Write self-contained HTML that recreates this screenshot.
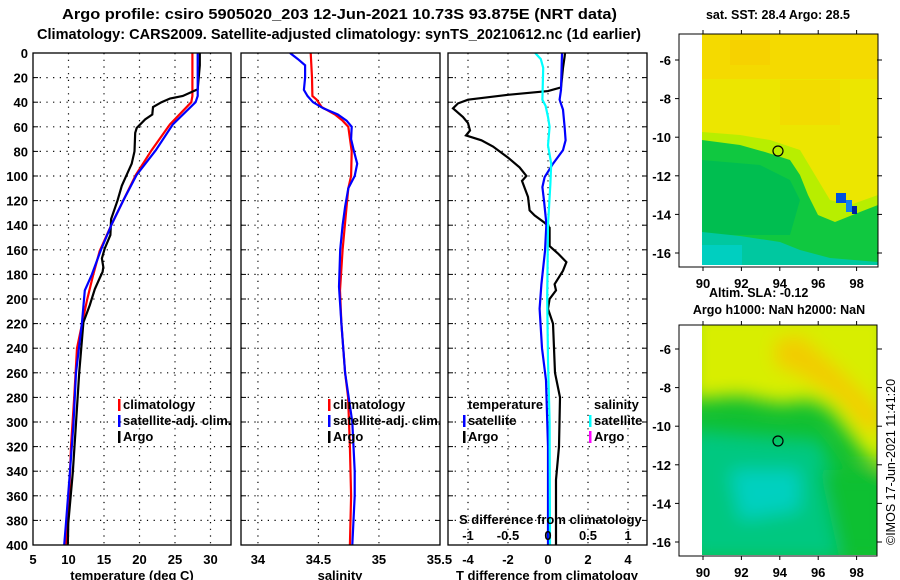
<!DOCTYPE html>
<html><head><meta charset="utf-8"><style>
html,body{margin:0;padding:0;background:#fff;}
svg{display:block;font-family:"Liberation Sans",Arial,sans-serif;font-weight:bold;}
</style></head><body>
<svg id="chart" width="900" height="580" viewBox="0 0 900 580" xmlns="http://www.w3.org/2000/svg">
<defs>
<filter id="blur" x="-20%" y="-20%" width="140%" height="140%"><feGaussianBlur stdDeviation="9"/></filter>
<clipPath id="clipTop"><rect x="702" y="34" width="176" height="231"/></clipPath>
<clipPath id="clipBot"><rect x="702" y="325" width="175" height="230"/></clipPath>
<clipPath id="c1"><rect x="33" y="53" width="198" height="492"/></clipPath>
<clipPath id="c2"><rect x="241" y="53" width="199" height="492"/></clipPath>
<clipPath id="c3"><rect x="448" y="53" width="199" height="492"/></clipPath>
</defs>
<text x="62" y="19" font-size="15" textLength="555" lengthAdjust="spacingAndGlyphs">Argo profile: csiro 5905020_203 12-Jun-2021 10.73S 93.875E (NRT data)</text>
<text x="37" y="39" font-size="15" textLength="604" lengthAdjust="spacingAndGlyphs">Climatology: CARS2009. Satellite-adjusted climatology: synTS_20210612.nc (1d earlier)</text>

<!-- top map -->
<g>
<text x="778" y="19" font-size="12.5" text-anchor="middle">sat. SST: 28.4 Argo: 28.5</text>
<g clip-path="url(#clipTop)">
<rect x="702" y="34" width="176" height="231" fill="#ece600"/>
<rect x="702" y="34" width="176" height="45" fill="#f4da00"/>
<rect x="730" y="40" width="40" height="25" fill="#f6d200"/>
<rect x="780" y="80" width="60" height="45" fill="#f2dc00"/>
<polygon fill="#b8ee00" points="702,132 740,135 770,140 800,150 815,175 830,200 850,205 878,195 878,265 702,265"/>
<polygon fill="#10c840" points="702,140 740,145 765,152 790,160 800,175 808,195 818,215 835,222 860,212 878,205 878,265 702,265"/>
<polygon fill="#00be50" points="702,160 760,165 790,180 800,200 790,235 702,235"/>
<polygon fill="#00c8a0" points="702,232 740,236 780,242 800,250 830,258 878,262 878,265 702,265"/>
<rect x="702" y="245" width="40" height="20" fill="#00cfc0"/>
<rect x="836" y="193" width="10" height="10" fill="#0050e0"/>
<rect x="846" y="200" width="6" height="12" fill="#1080f0"/>
<rect x="852" y="206" width="5" height="8" fill="#0020a0"/>
</g>
<rect x="679" y="34" width="199" height="233" fill="none" stroke="#000" stroke-width="1"/>
<circle cx="778" cy="151" r="5" fill="none" stroke="#000" stroke-width="1.2"/>
</g>
<text x="709" y="297" font-size="12.5">Altim. SLA: -0.12</text>
<text x="779" y="314" font-size="12.5" text-anchor="middle">Argo h1000: NaN h2000: NaN</text>

<!-- bottom map -->
<g>
<g clip-path="url(#clipBot)">
<rect x="702" y="325" width="176" height="231" fill="#10c030"/>
<g filter="url(#blur)">
<polygon fill="#d8ee00" points="690,310 890,310 890,470 865,455 850,435 830,410 810,400 780,404 740,396 690,400"/>
<polygon fill="#f2cc00" points="775,340 800,335 840,370 870,400 885,420 870,435 840,400 800,375 775,365"/>
<polygon fill="#00d8d0" points="705,440 760,445 800,460 810,500 780,520 750,510 720,490 705,470"/>
<polygon fill="#00c880" points="690,430 820,440 840,490 890,500 890,560 690,560"/>
<polygon fill="#10c030" points="820,470 890,470 890,560 840,560"/>
<polygon fill="#00d0c0" points="730,470 800,470 800,510 740,520"/>
</g>
</g>
<rect x="679" y="325" width="198" height="231" fill="none" stroke="#000" stroke-width="1"/>
<circle cx="778" cy="441" r="5" fill="none" stroke="#000" stroke-width="1.2"/>
</g>
<text transform="translate(895,545) rotate(-90)" font-size="12.5" font-weight="normal">©IMOS 17-Jun-2021 11:41:20</text>
</svg>
<script>
// ---- data ----
const depthTicks=[0,20,40,60,80,100,120,140,160,180,200,220,240,260,280,300,320,340,360,380,400];
const tempTicks=[5,10,15,20,25,30];
const salTicks=[34,34.5,35,35.5];
const tdiffTicks=[-4,-2,0,2,4];
const sdiffTicks=[-1,-0.5,0,0.5,1];
const sdiffLabels=["-1","-0.5","0","0.5","1"];

const climTDepth=[0,35,40,58,79,99,120,139,161,180,201,240,280,320,360,400];
const climT=[27.45,27.45,27.3,24.3,21.7,19.5,17.7,16.1,14.4,13.5,12.6,11.2,10.8,10.35,10.1,9.6];
const satTDepth=[0,35,40,58,79,99,120,139,161,180,193,219,260,301,341,382,400];
const satT=[28.2,28.2,27.9,24.7,22.3,19.6,17.7,16.1,14.5,13.3,12.3,11.9,11.05,10.7,10.2,9.65,9.4];
const argoTDepth=[0,10,29.5,35,37,40,44,50,54,61,65,80,90,99,108,120,135,148,159,167,174,178,183,192,205,219,260,301,341,382,400];
const argoT=[28.5,28.5,28.2,26.1,24.3,23.1,21.9,21.8,20.8,19.6,19.4,19.3,18.9,18.2,17.5,16.9,16.0,15.9,15.1,14.7,14.9,14.8,14.4,13.7,13.0,12.1,11.5,11.05,10.6,9.97,9.9];

const climSDepth=[0,20,35,38,44,50,55,60,80,100,110,130,160,193,220,260,280,320,360,380,400];
const climS=[34.436,34.447,34.45,34.486,34.527,34.637,34.70,34.747,34.775,34.77,34.747,34.728,34.70,34.678,34.69,34.72,34.745,34.76,34.77,34.765,34.76];
const satSDepth=[0,5,10,20,30,35,40,45,50,55,60,70,80,90,100,110,125,140,160,190,220,260,300,340,360,400];
const satS=[34.265,34.33,34.39,34.39,34.38,34.41,34.455,34.54,34.66,34.733,34.775,34.77,34.794,34.82,34.80,34.747,34.72,34.70,34.68,34.67,34.69,34.72,34.78,34.80,34.80,34.78];

const satDTDepth=[0,30,38,46,60,71,79,90,101,109,120,139,161,188,208,240,266,320,400];
const satDT=[0.7,0.65,0.58,0.75,0.83,0.88,0.75,0.25,-0.17,-0.28,-0.2,-0.08,-0.15,-0.33,-0.42,-0.3,-0.1,0,0];
const argoDTDepth=[0,3,12,28,31,34,38,41,45,52,57,63,67,71,76,85,93,100,104,117,128,132,138,142,157,163,170,177,188,193,200,208,220,260,280,320,347,400];
const argoDT=[0.85,0.83,0.75,0.65,0,-2.0,-4.0,-4.5,-4.75,-4.25,-4.0,-3.9,-4.1,-3.33,-2.75,-2.0,-1.42,-1.08,-1.3,-1.0,-0.92,-0.67,-0.17,0.08,0.08,0.5,0.92,0.75,0.33,0.4,0.08,0,0.25,0.35,0.6,0.55,0.4,0.4];
const satDSDepth=[0,5,12,38,43,52,60,75,90,106,140,200,250,300,400];
const satDS=[-0.16,-0.09,-0.06,-0.07,-0.03,0,0.02,0,0.04,0.03,0,-0.01,0,0.02,0.025];

// ---- axes ----
const NS="http://www.w3.org/2000/svg";
const svg=document.getElementById('chart');
const Y0=53,Y1=545;
function yD(d){return Y0+(Y1-Y0)*d/400;}
function xT(t){return 33+(t-5)*7.1;}
function xS(s){return 241+(s-33.86)*121;}
function xDT(t){return 548+20*t;}
function xDS(s){return 548+80*s;}
function mk(tag,attrs,parent){const e=document.createElementNS(NS,tag);for(const k in attrs)e.setAttribute(k,attrs[k]);(parent||svg).appendChild(e);return e;}

const panels=[
 {x:33,w:198,clip:'c1',name:'temperature-panel',xf:xT,ticks:tempTicks,labels:tempTicks.map(String),title:'temperature (deg C)',tx:132},
 {x:241,w:199,clip:'c2',name:'salinity-panel',xf:xS,ticks:salTicks,labels:salTicks.map(String),title:'salinity',tx:340},
 {x:448,w:199,clip:'c3',name:'difference-panel',xf:xDT,ticks:tdiffTicks,labels:tdiffTicks.map(String),title:'T difference from climatology',tx:547}
];
const gs=[];
panels.forEach((p,pi)=>{
  const g=mk('g',{});
  
  
  gs.push(g);
  depthTicks.forEach(d=>{
    if(d>0&&d<400){const l=mk('line',{x1:p.x,x2:p.x+p.w,y1:yD(d),y2:yD(d),stroke:'#000','stroke-width':1.2,'stroke-dasharray':'1.2,5.5'},g);
      }
    mk('line',{x1:p.x,x2:p.x+5,y1:yD(d),y2:yD(d),stroke:'#000'},g);
    mk('line',{x1:p.x+p.w-5,x2:p.x+p.w,y1:yD(d),y2:yD(d),stroke:'#000'},g);
    if(pi===0){const t=mk('text',{x:28,y:yD(d)+5,'font-size':13,'text-anchor':'end'},g);t.textContent=d;
      }
  });
  p.ticks.forEach((v,i)=>{
    const x=p.xf(v);
    if(x>p.x+1&&x<p.x+p.w-1){const l=mk('line',{x1:x,x2:x,y1:Y0,y2:Y1,stroke:'#000','stroke-width':1.2,'stroke-dasharray':'1.2,5.5'},g);
      }
    const t=mk('text',{x:x,y:564,'font-size':13,'text-anchor':'middle'},g);t.textContent=p.labels[i];
    
  });
  const at=mk('text',{x:p.tx,y:580,'font-size':13,'text-anchor':'middle'},g);at.textContent=p.title;
  
});
function line(g,clip,xs,ds,fx,color,name){
  const pts=xs.map((v,i)=>fx(v).toFixed(1)+','+yD(ds[i]).toFixed(1)).join(' ');
  const pl=mk('polyline',{points:pts,fill:'none',stroke:color,'stroke-width':2.2,'clip-path':'url(#'+clip+')'},g);
  
  
}
line(gs[0],'c1',climT,climTDepth,xT,'#f00','climatology-temperature-line');
line(gs[0],'c1',argoT,argoTDepth,xT,'#000','argo-temperature-line');
line(gs[0],'c1',satT,satTDepth,xT,'#00f','satellite-temperature-line');
line(gs[1],'c2',climS,climSDepth,xS,'#f00','climatology-salinity-line');
line(gs[1],'c2',satS,satSDepth,xS,'#00f','satellite-salinity-line');
line(gs[2],'c3',argoDT,argoDTDepth,xDT,'#000','argo-t-difference-line');
line(gs[2],'c3',satDT,satDTDepth,xDT,'#00f','satellite-t-difference-line');
line(gs[2],'c3',satDS,satDSDepth,xDS,'#0ff','satellite-s-difference-line');

// S difference axis labels
const st=mk('text',{x:459,y:524,'font-size':13},gs[2]);st.textContent='S difference from climatology';

sdiffTicks.forEach((v,i)=>{const t=mk('text',{x:xDS(v),y:540,'font-size':13,'text-anchor':'middle'},gs[2]);t.textContent=sdiffLabels[i];
  });

// frames
panels.forEach(p=>{const r=mk('rect',{x:p.x,y:Y0,width:p.w,height:Y1-Y0,fill:'none',stroke:'#000','stroke-width':1.3});
  });

// legends
function leg(x,y,color,label){
  const g=mk('g',{});
  
  
  if(color)mk('rect',{x:x-5,y:y-10,width:2.5,height:12,fill:color},g);
  const t=mk('text',{x:x,y:y,'font-size':13},g);t.textContent=label;
}
leg(123,409,'#f00','climatology');leg(123,425,'#00f','satellite-adj. clim.');leg(123,441,'#000','Argo');
leg(333,409,'#f00','climatology');leg(333,425,'#00f','satellite-adj. clim.');leg(333,441,'#000','Argo');
leg(468,409,null,'temperature');leg(468,425,'#00f','satellite');leg(468,441,'#000','Argo');
leg(594,409,null,'salinity');leg(594,425,'#0ff','satellite');leg(594,441,'#f0f','Argo');

// map axes
const lonTicks=[90,92,94,96,98];
const latTicksTop=[-6,-8,-10,-12,-14,-16];
function lonX(l){return 703+(l-90)*19.2;}
function mapAxes(top,bottom,latY,name){
  const g=mk('g',{});
  
  
  lonTicks.forEach(l=>{const x=lonX(l);
    mk('line',{x1:x,x2:x,y1:bottom,y2:bottom+4,stroke:'#000'},g);
    mk('line',{x1:x,x2:x,y1:top-4,y2:top,stroke:'#000'},g);
    const t=mk('text',{x:x,y:bottom+21,'font-size':13,'text-anchor':'middle'},g);t.textContent=l;});
  latTicksTop.forEach(la=>{const y=latY(la);
    mk('line',{x1:675,x2:679,y1:y,y2:y,stroke:'#000'},g);
    mk('line',{x1:877,x2:882,y1:y,y2:y,stroke:'#000'},g);
    const t=mk('text',{x:671,y:y+5,'font-size':13,'text-anchor':'end'},g);t.textContent=la;});
}
mapAxes(34,267,la=>60+(-6-la)*19.3,'sst-map-axes');
mapAxes(325,556,la=>349+(-6-la)*19.3,'sla-map-axes');
</script>
</body></html>
